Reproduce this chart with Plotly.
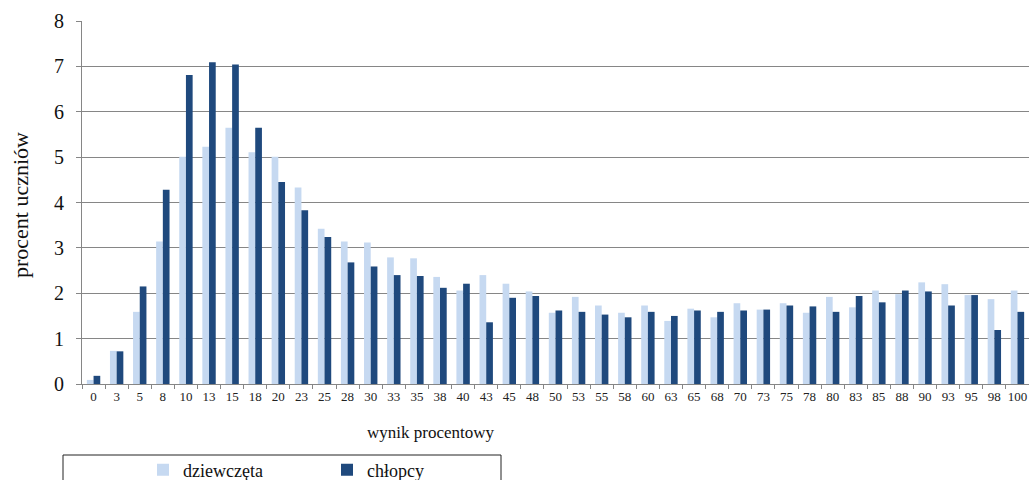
import plotly.graph_objects as go

categories = ["0","3","5","8","10","13","15","18","20","23","25","28","30","33","35","38","40","43","45","48",
              "50","53","55","58","60","63","65","68","70","73","75","78","80","83","85","88","90","93","95","98","100"]
dziewczeta = [0.09,0.73,1.59,3.14,5.01,5.23,5.65,5.11,5.01,4.33,3.42,3.14,3.12,2.79,2.77,2.36,2.06,2.40,2.21,2.04,
              1.57,1.92,1.73,1.57,1.73,1.39,1.66,1.47,1.78,1.64,1.78,1.57,1.92,1.69,2.06,1.98,2.24,2.20,1.96,1.87,2.06]
chlopcy = [0.18,0.72,2.15,4.28,6.81,7.09,7.04,5.65,4.45,3.83,3.24,2.68,2.59,2.40,2.38,2.12,2.21,1.36,1.90,1.94,
           1.62,1.59,1.53,1.47,1.59,1.50,1.62,1.59,1.62,1.64,1.73,1.71,1.59,1.94,1.80,2.06,2.04,1.73,1.96,1.19,1.59]
y_ticks = [0,1,2,3,4,5,6,7,8]

FONT = "'Liberation Serif', 'Times New Roman', 'DejaVu Serif', serif"

fig = go.Figure()
fig.add_trace(go.Bar(x=categories, y=dziewczeta, name="dziewczęta", marker_color="#C6D9F1", marker_line_width=0))
fig.add_trace(go.Bar(x=categories, y=chlopcy, name="chłopcy", marker_color="#1F497D", marker_line_width=0))

PW, PH = 947, 363  # plot area size
def px(xr):  # reference pixel x -> paper
    return (xr - 82) / PW
def py(yr):  # reference pixel y -> paper
    return (384 - yr) / PH

fig.update_layout(
    width=1029, height=480,
    margin=dict(l=82, r=0, t=21, b=96, autoexpand=False),
    paper_bgcolor="white", plot_bgcolor="white",
    barmode="group", bargap=0.42, bargroupgap=0,
    font=dict(family=FONT, color="#111111"),
    showlegend=True,
    legend=dict(orientation="h", x=px(143), xanchor="left", y=py(470), yanchor="middle",
                font=dict(family=FONT, size=18, color="#111111"), entrywidth=139, entrywidthmode="pixels",
                bgcolor="rgba(0,0,0,0)", borderwidth=0, itemwidth=30),
    xaxis=dict(type="category", showgrid=False, showline=True, linecolor="#868686", linewidth=1,
               ticks="outside", tickson="boundaries", ticklen=4, tickcolor="#868686", tickangle=0,
               tickfont=dict(family=FONT, size=13, color="#222222"), zeroline=False),
    yaxis=dict(range=[0, 8], tickvals=y_ticks, showgrid=True, gridcolor="#868686", gridwidth=1,
               showline=True, linecolor="#868686", linewidth=1, ticks="outside", ticklen=5, tickcolor="#868686",
               tickfont=dict(family=FONT, size=20, color="#111111"), zeroline=False, ticklabelstandoff=8),
    shapes=[dict(type="rect", xref="paper", yref="paper", x0=px(63), x1=px(501),
                 y0=py(500), y1=py(455), line=dict(color="#222222", width=1), fillcolor="rgba(0,0,0,0)")],
    annotations=[
        dict(text="wynik procentowy", xref="paper", yref="paper", x=px(431), y=py(433),
             showarrow=False, font=dict(family=FONT, size=17, color="#111111"), xanchor="center", yanchor="middle"),
        dict(text="procent uczniów", xref="paper", yref="paper", x=px(20), y=py(205), textangle=-90,
             showarrow=False, font=dict(family=FONT, size=22, color="#111111"), xanchor="center", yanchor="middle"),
    ],
)

fig.write_html("out.html", config={"displayModeBar": False},
               post_script="document.body.style.margin='0';document.body.style.overflow='hidden';")
